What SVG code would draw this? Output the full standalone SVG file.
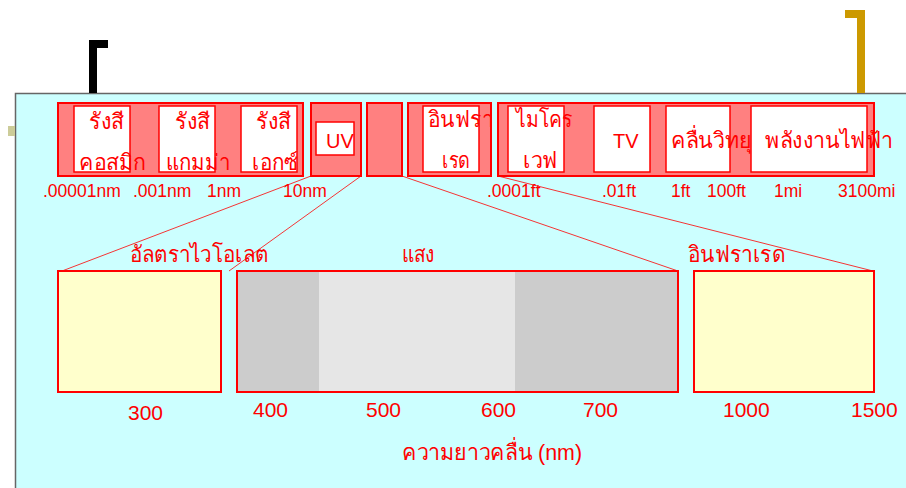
<svg xmlns="http://www.w3.org/2000/svg" width="906" height="488" viewBox="0 0 906 488">
<style>
.seg{fill:#FF8080;stroke:#FF0000;stroke-width:2}
.wb{fill:#FFFFFF;stroke:#FF0000;stroke-width:1.5}
.t{fill:#FF0000;font-family:"Liberation Sans",Arial,sans-serif}
.th{font-size:22px}
.lat{font-size:20px}
.lbl{font-size:17.5px}
.num{font-size:21px}
.conn{stroke:#FF0000;stroke-width:0.8;fill:none}
</style>
<rect width="906" height="488" fill="#FFFFFF"/>
<g id="background">
<rect x="15.5" y="93.5" width="900" height="400" fill="#CCFFFF" stroke="#666666" stroke-width="1.5"/>
</g>
<g id="bracket-left">
<path d="M93 93 V44 H108" fill="none" stroke="#000000" stroke-width="8"/>
</g>
<g id="bracket-right">
<path d="M845 14 H861 V93" fill="none" stroke="#CC9900" stroke-width="8"/>
</g>
<rect id="marker-square" x="8" y="126" width="7" height="10" fill="#CCCC99"/>

<g id="connectors">
<line class="conn" x1="311" y1="176" x2="62" y2="271"/>
<line class="conn" x1="361" y1="176" x2="229" y2="271"/>
<line class="conn" x1="402" y1="176" x2="678" y2="271"/>
<line class="conn" x1="498" y1="176" x2="873" y2="271"/>
</g>

<g id="band-high-energy">
<rect class="seg" x="58" y="103" width="245" height="73"/>
<rect class="wb" x="74" y="106" width="56" height="66"/>
<rect class="wb" x="159" y="106" width="56" height="66"/>
<rect class="wb" x="241" y="106" width="56" height="66"/>
<text class="t th" x="89" y="129" textLength="35" lengthAdjust="spacingAndGlyphs">รังสี</text>
<text class="t th" x="79" y="170" textLength="67" lengthAdjust="spacingAndGlyphs">คอสมิก</text>
<text class="t th" x="175" y="129" textLength="35" lengthAdjust="spacingAndGlyphs">รังสี</text>
<text class="t th" x="166" y="170" textLength="64" lengthAdjust="spacingAndGlyphs">แกมม่า</text>
<text class="t th" x="256" y="129" textLength="35" lengthAdjust="spacingAndGlyphs">รังสี</text>
<text class="t th" x="252" y="170" textLength="46" lengthAdjust="spacingAndGlyphs">เอกซ์</text>
</g>
<g id="band-uv">
<rect class="seg" x="311" y="103" width="50" height="73"/>
<rect class="wb" x="316" y="122" width="38" height="33"/>
<text class="t lat" x="326" y="148">UV</text>
</g>
<g id="band-visible">
<rect class="seg" x="367" y="103" width="35" height="73"/>
</g>
<g id="band-infrared">
<rect class="seg" x="408" y="103" width="83" height="73"/>
<rect class="wb" x="423" y="106" width="56" height="66"/>
<text class="t th" x="428" y="127" textLength="65" lengthAdjust="spacingAndGlyphs">อินฟรา</text>
<text class="t th" x="442" y="168" textLength="28" lengthAdjust="spacingAndGlyphs">เรด</text>
</g>
<g id="band-low-energy">
<rect class="seg" x="498" y="103" width="376" height="73"/>
<rect class="wb" x="508" y="106" width="56" height="66"/>
<rect class="wb" x="594" y="106" width="56" height="66"/>
<rect class="wb" x="666" y="106" width="64" height="66"/>
<rect class="wb" x="751" y="106" width="116" height="66"/>
<text class="t th" x="516" y="127" textLength="57" lengthAdjust="spacingAndGlyphs">ไมโคร</text>
<text class="t th" x="523" y="168" textLength="35" lengthAdjust="spacingAndGlyphs">เวฟ</text>
<text class="t lat" x="613" y="148">TV</text>
<text class="t th" x="671" y="148" textLength="81" lengthAdjust="spacingAndGlyphs">คลื่นวิทยุ</text>
<text class="t th" x="765" y="148" textLength="128" lengthAdjust="spacingAndGlyphs">พลังงานไฟฟ้า</text>
</g>

<g id="scale-labels">
<text class="t lbl" x="43" y="197">.00001nm</text>
<text class="t lbl" x="133" y="197">.001nm</text>
<text class="t lbl" x="207" y="197">1nm</text>
<text class="t lbl" x="283" y="197">10nm</text>
<text class="t lbl" x="487" y="197">.0001ft</text>
<text class="t lbl" x="602" y="197">.01ft</text>
<text class="t lbl" x="671" y="197">1ft</text>
<text class="t lbl" x="707" y="197">100ft</text>
<text class="t lbl" x="774" y="197">1mi</text>
<text class="t lbl" x="838" y="197">3100mi</text>
</g>

<g id="zoom-ultraviolet">
<rect x="58" y="271" width="163" height="121" fill="#FFFFCC" stroke="#FF0000" stroke-width="2"/>
<text class="t th" x="130" y="262" textLength="138" lengthAdjust="spacingAndGlyphs">อัลตราไวโอเลต</text>
</g>
<g id="zoom-visible">
<rect x="237" y="271" width="82" height="121" fill="#CCCCCC"/>
<rect x="319" y="271" width="196" height="121" fill="#E6E6E6"/>
<rect x="515" y="271" width="164" height="121" fill="#CCCCCC"/>
<rect x="237" y="271" width="441" height="121" fill="none" stroke="#FF0000" stroke-width="2"/>
<text class="t th" x="402" y="262" textLength="33" lengthAdjust="spacingAndGlyphs">แสง</text>
</g>
<g id="zoom-infrared">
<rect x="694" y="271" width="180" height="121" fill="#FFFFCC" stroke="#FF0000" stroke-width="2"/>
<text class="t th" x="688" y="262" textLength="97" lengthAdjust="spacingAndGlyphs">อินฟราเรด</text>
</g>

<g id="axis-labels">
<text class="t num" x="128" y="420">300</text>
<text class="t num" x="253" y="417">400</text>
<text class="t num" x="366" y="417">500</text>
<text class="t num" x="481" y="417">600</text>
<text class="t num" x="583" y="417">700</text>
<text class="t num" x="723" y="417">1000</text>
<text class="t num" x="851" y="417">1500</text>
<text class="t th" x="402" y="460" textLength="180" lengthAdjust="spacingAndGlyphs">ความยาวคลื่น (nm)</text>
</g>
</svg>
